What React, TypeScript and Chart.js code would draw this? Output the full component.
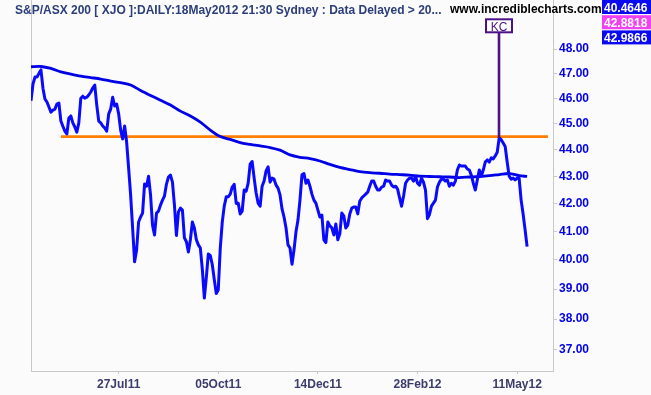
import React, { useEffect, useRef } from 'react';
import { Chart, registerables } from 'chart.js';

Chart.register(...registerables);

// Daily closes of S&P/ASX 200 (XJO / 100), one per trading bar
const priceValues = [
  45.9, 46.57, 46.85, 46.85, 47.0, 47.14, 46.4, 45.97, 45.85, 45.65,
  45.45, 45.53, 45.57, 45.77, 45.81, 45.1, 44.9, 44.71, 44.6, 45.22,
  45.3, 45.03, 44.87, 44.67, 45.03, 46.0, 46.08, 46.0, 46.04, 46.13,
  46.25, 46.41, 46.53, 45.73, 45.1, 45.03, 44.91, 44.83, 44.71, 45.38,
  45.57, 46.04, 45.69, 45.77, 45.38, 44.75, 44.41, 44.91, 44.29, 43.3,
  42.31, 41.12, 39.93, 40.34, 41.33, 41.51, 41.65, 42.71, 42.63, 43.0,
  42.31, 41.22, 40.87, 41.65, 41.72, 41.94, 42.12, 42.27, 42.71, 42.97,
  43.04, 42.78, 41.94, 40.85, 41.69, 41.83, 41.76, 40.77, 40.63, 40.27,
  40.7, 41.33, 41.12, 40.7, 40.52, 40.41, 39.66, 38.7, 39.4, 40.2,
  40.15, 39.83, 39.32, 38.85, 38.98, 40.41, 41.33, 41.9, 42.24, 42.24,
  42.34, 42.6, 42.7, 42.0, 42.01, 41.62, 41.72, 42.49, 42.45, 42.74,
  43.45, 43.55, 42.93, 42.38, 42.01, 41.9, 42.63, 42.82, 43.2, 43.35,
  42.78, 42.93, 42.89, 42.67, 42.56, 42.31, 41.8, 41.51, 41.12, 40.52,
  40.41, 39.85, 40.34, 40.98, 41.4, 42.12, 43.05, 43.1, 42.74, 42.86,
  42.63, 42.34, 42.12, 42.01, 41.76, 41.51, 41.58, 40.7, 40.6, 41.33,
  41.19, 41.12, 40.87, 41.26, 40.7, 40.91, 41.65, 41.55, 41.12, 41.22,
  41.62, 41.83, 41.87, 41.87, 41.62, 42.08, 42.2, 42.27, 42.34, 42.41,
  42.63, 42.82, 42.82, 42.63, 42.49, 42.49, 42.6, 42.63, 42.86, 42.82,
  42.82, 42.67, 42.6, 42.63, 42.52, 42.2, 41.9, 42.27, 42.74, 42.86,
  42.93, 42.93, 42.82, 43.0, 42.74, 42.67, 42.93, 42.78, 42.49, 41.45,
  41.6, 41.9, 42.01, 42.12, 42.6, 42.78, 42.89, 42.89, 42.82, 42.86,
  42.63, 42.74, 42.67, 42.82, 43.23, 43.42, 43.38, 43.38, 43.38, 43.27,
  43.23, 43.04, 42.74, 42.49, 42.86, 43.23, 43.0, 43.23, 43.53, 43.61,
  43.53, 43.69, 43.65, 43.76, 43.9, 44.45, 44.38, 44.25, 44.12, 43.53,
  43.0, 42.89, 42.93, 42.86, 42.93, 42.93, 42.12, 41.62, 41.05, 40.46,
];

// Moving average, read at every 5th bar
const maBars = [
  0, 5, 10, 15, 20, 25, 30, 35, 40, 45, 50, 55, 60, 65, 70, 75, 80, 85, 90, 95,
  100, 105, 110, 115, 120, 125, 130, 135, 140, 145, 150, 155, 160, 165, 170, 175,
  180, 185, 190, 195, 200, 205, 210, 215, 220, 225, 230, 235, 240, 245, 249,
];
const maValues = [
  47.27, 47.28, 47.2, 47.06, 46.97, 46.89, 46.83, 46.77, 46.69, 46.62, 46.53,
  46.31, 46.11, 45.92, 45.73, 45.49, 45.3, 45.06, 44.75, 44.5, 44.39, 44.27,
  44.2, 44.14, 44.08, 43.98, 43.8, 43.71, 43.66, 43.57, 43.44, 43.33, 43.25,
  43.17, 43.13, 43.11, 43.08, 43.06, 43.04, 43.0, 42.99, 42.98, 42.97, 42.95,
  42.97, 42.99, 43.02, 43.06, 43.1, 43.02, 42.99,
];

// Horizontal resistance line
const levelValue = 44.5;
const levelBars = [15, 259.5];

// KC marker
const kcBar = 235;
const kcText = 'KC';

// Axes
const xTickBars = [44, 94, 144, 194, 244];
const xTickLabels = ['27Jul11', '05Oct11', '14Dec11', '28Feb12', '11May12'];
const yTickValues = [37, 38, 39, 40, 41, 42, 43, 44, 45, 46, 47, 48];
const xMax = 262;
const yMin = 36.334;
const yMax = 50.078;

// Header
const titleText = 'S&P/ASX 200 [ XJO ]:DAILY:18May2012 21:30 Sydney : Data Delayed > 20...';
const siteText = 'www.incrediblecharts.com';
const valueLabels = ['40.4646', '42.8818', '42.9866'];
const valueColors = ['#0a0af0', '#f040f0', '#0a0af0'];

const FONT = "Arial, 'Liberation Sans', sans-serif";
const BG = '#fbfbfb';
const AXIS = '#c8c8c8';
const KC_COLOR = '#4b1186';

const overlayPlugin = {
  id: 'overlay',
  beforeDraw(chart: any) {
    const c = chart.ctx;
    c.save();
    c.fillStyle = BG;
    c.fillRect(0, 0, chart.width, chart.height);
    c.restore();
  },
  afterDatasetsDraw(chart: any) {
    const c = chart.ctx;
    const xs = chart.scales.x;
    const ys = chart.scales.y;
    const px = Math.round(xs.getPixelForValue(kcBar));
    const py = ys.getPixelForValue(priceValues[kcBar]);
    c.save();
    c.strokeStyle = KC_COLOR;
    c.lineWidth = 2.6;
    c.beginPath();
    c.moveTo(px, py);
    c.lineTo(px, 33);
    c.stroke();
    c.fillStyle = '#ffffff';
    c.fillRect(px - 13, 19.3, 26, 13);
    c.lineWidth = 2;
    c.strokeRect(px - 13, 19.3, 26, 13);
    c.fillStyle = KC_COLOR;
    c.font = `12px ${FONT}`;
    c.textAlign = 'center';
    c.textBaseline = 'alphabetic';
    c.fillText(kcText, px, 30.5);
    c.restore();
  },
  afterDraw(chart: any) {
    const c = chart.ctx;
    c.save();
    c.font = `bold 12px ${FONT}`;
    c.textAlign = 'left';
    c.textBaseline = 'alphabetic';
    c.fillStyle = '#2b3d7a';
    c.fillText(titleText, 15, 14);
    c.fillStyle = '#000000';
    c.fillText(siteText, 450, 13);
    valueLabels.forEach((t, k) => {
      const top = k * 15.2;
      c.fillStyle = valueColors[k];
      c.fillRect(602, top, 49, 14);
      c.fillStyle = '#ffffff';
      c.fillText(t, 604, top + 12);
    });
    c.restore();
  },
};

export default function App() {
  const ref = useRef<HTMLCanvasElement>(null);
  useEffect(() => {
    const canvas = ref.current;
    if (!canvas) return;
    const chart = new Chart(canvas, {
      type: 'line',
      data: {
        datasets: [
          {
            label: 'XJO',
            data: priceValues.map((v, i) => ({ x: i, y: v })),
            borderColor: '#0a0aff',
            borderWidth: 3,
            pointRadius: 0,
            tension: 0,
            borderJoinStyle: 'round',
            xAxisID: 'x',
            yAxisID: 'y',
          },
          {
            label: 'MA',
            data: maBars.map((b, i) => ({ x: b, y: maValues[i] })),
            borderColor: '#0000e6',
            borderWidth: 2.8,
            pointRadius: 0,
            tension: 0.3,
            xAxisID: 'x',
            yAxisID: 'y',
          },
          {
            label: 'Level',
            data: levelBars.map((b) => ({ x: b, y: levelValue })),
            borderColor: '#ff8000',
            borderWidth: 2.7,
            pointRadius: 0,
            xAxisID: 'x',
            yAxisID: 'y',
          },
        ],
      } as any,
      options: {
        responsive: false,
        animation: false,
        layout: { padding: 0 },
        plugins: { legend: { display: false }, tooltip: { enabled: false } },
        scales: {
          x: {
            type: 'linear',
            position: 'bottom',
            min: 0,
            max: xMax,
            afterBuildTicks: (s: any) => {
              s.ticks = xTickBars.map((v) => ({ value: v }));
            },
            afterFit: (s: any) => {
              s.height = 24;
              s.paddingLeft = 0;
              s.paddingRight = 0;
            },
            ticks: {
              autoSkip: false,
              maxRotation: 0,
              padding: 3,
              color: '#3c3c6c',
              font: { family: FONT, size: 12, weight: 'bold' },
              callback: (v: any) => {
                const k = xTickBars.indexOf(Number(v));
                return k >= 0 ? xTickLabels[k] : '';
              },
            },
            grid: { drawOnChartArea: false, tickLength: 3, color: AXIS },
            border: { color: AXIS, width: 1 },
          },
          y: {
            type: 'logarithmic',
            position: 'right',
            min: yMin,
            max: yMax,
            afterBuildTicks: (s: any) => {
              s.ticks = yTickValues.map((v) => ({ value: v }));
            },
            afterFit: (s: any) => {
              s.width = 98;
              s.paddingTop = 0;
              s.paddingBottom = 0;
            },
            ticks: {
              autoSkip: false,
              padding: 2,
              color: '#0000ee',
              font: { family: FONT, size: 12, weight: 'bold' },
              callback: (v: any) => Number(v).toFixed(2),
            },
            grid: { drawOnChartArea: false, tickLength: 4, color: AXIS },
            border: { color: AXIS, width: 1 },
          },
          yl: {
            type: 'linear',
            position: 'left',
            afterFit: (s: any) => {
              s.width = 31;
              s.paddingTop = 0;
              s.paddingBottom = 0;
            },
            ticks: { display: false },
            grid: { display: false },
            border: { color: AXIS, width: 1 },
          },
        },
      } as any,
      plugins: [overlayPlugin],
    });
    return () => chart.destroy();
  }, []);
  return (
    <div style={{ position: 'fixed', left: 0, top: 0, width: 651, height: 395, background: BG }}>
      <canvas ref={ref} width={651} height={395} style={{ display: 'block' }} />
    </div>
  );
}
